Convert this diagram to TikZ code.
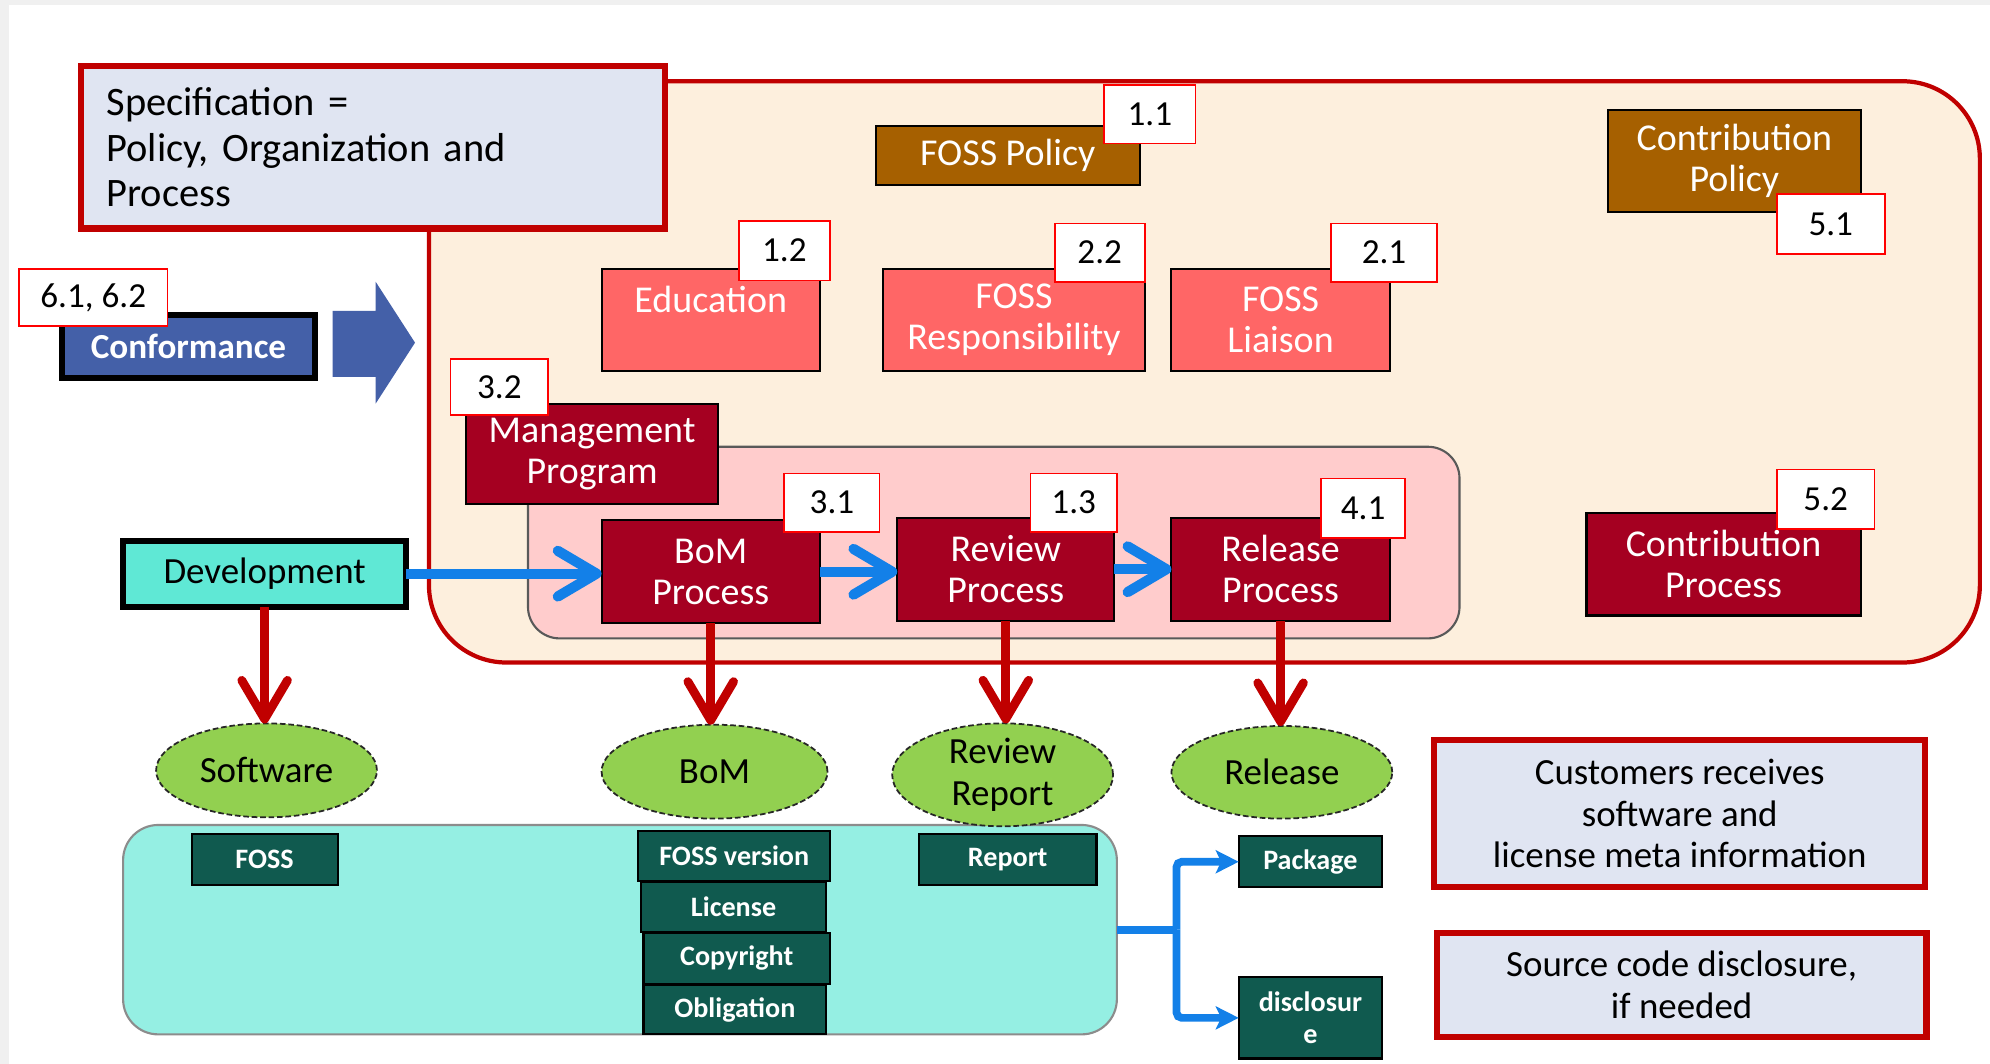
\documentclass[tikz,border=0pt]{standalone}
\usepackage{fontspec}
\setmainfont{Carlito}
\usetikzlibrary{shapes.geometric,arrows.meta}

\definecolor{cRed}{HTML}{C00000}
\definecolor{cCream}{HTML}{FDEFDD}
\definecolor{cSpec}{HTML}{E0E5F2}
\definecolor{cBrown}{HTML}{A66000}
\definecolor{cSalmon}{HTML}{FF6666}
\definecolor{cDark}{HTML}{A50021}
\definecolor{cPink}{HTML}{FFCCCC}
\definecolor{cConf}{HTML}{4460A8}
\definecolor{cDev}{HTML}{5FE8D5}
\definecolor{cBlue}{HTML}{1380E8}
\definecolor{cGreen}{HTML}{92D050}
\definecolor{cCyan}{HTML}{95EFE3}
\definecolor{cTeal}{HTML}{105A4F}

\newcommand\fmain{\fontsize{10.8pt}{11.6pt}\selectfont}
\newcommand\rbox[7]{\node[#6, minimum width={(#4-#2)*0.36109pt}, minimum height={(#5-#3)*0.36109pt}] (#1) at ({(#2+#4)/2},{(#3+#5)/2}) {#7};}

\tikzset{
  base/.style={inner sep=0pt, outer sep=0pt, align=center},
  region/.style={base, draw=cRed, line width=1.2pt, fill=cCream, rounded corners=22pt},
  pinkreg/.style={base, draw=black!65, line width=0.6pt, fill=cPink, rounded corners=9pt},
  cyanreg/.style={base, draw=black!45, line width=0.6pt, fill=cCyan, rounded corners=10pt},
  specbox/.style={base, draw=cRed, line width=1.8pt, fill=cSpec, align=left, text width=151.7pt,
    font=\fontsize{11.5pt}{13pt}\selectfont},
  notebox/.style={base, draw=cRed, line width=1.8pt, fill=cSpec, font=\fontsize{10.5pt}{11.8pt}\selectfont},
  brownbox/.style={base, draw=black, line width=0.6pt, fill=cBrown, text=white, font=\fmain},
  salmon/.style={base, draw=black, line width=0.6pt, fill=cSalmon, text=white, font=\fmain},
  darkbox/.style={base, draw=black, line width=0.6pt, fill=cDark, text=white, font=\fmain},
  confbox/.style={base, draw=black, line width=1.8pt, fill=cConf, text=white, font=\bfseries\fontsize{10pt}{12pt}\selectfont},
  devbox/.style={base, draw=black, line width=1.8pt, fill=cDev, text=black, font=\fontsize{10.5pt}{12pt}\selectfont},
  ell/.style={base, ellipse, draw=black!85, dash pattern=on 1.6pt off 0.8pt, line width=0.5pt, fill=cGreen,
    font=\fontsize{10.5pt}{11.8pt}\selectfont},
  tealbox/.style={base, draw=black, line width=0.6pt, fill=cTeal, text=white, font=\bfseries\fontsize{8pt}{9pt}\selectfont},
  lbl/.style={base, draw=red, line width=0.5pt, fill=white, font=\fontsize{10pt}{12pt}\selectfont},
  redarr/.style={draw=cRed, line width=2.5pt, -{Straight Barb[round, length=11pt, width=13pt]}},
  bluearr/.style={draw=cBlue, line width=2.9pt, -{Straight Barb[round, length=11pt, width=13pt]}},
  conn/.style={draw=cBlue, line width=2.2pt, rounded corners=1.5pt},
  conntip/.style={-{Stealth[length=6.5pt, width=6.5pt, inset=1.5pt]}}
}

\begin{document}
\begin{tikzpicture}[x=0.36109pt, y=-0.36109pt]
\useasboundingbox (0,0) rectangle (1568,838);
\fill[black!6] (0,0) rectangle (1568,838);
\fill[white] (7,4) rectangle (1568,838);

% containers
\rbox{reg}{338}{64}{1560}{522}{region}{}
\rbox{pinkr}{416}{352}{1150}{503}{pinkreg}{}
\rbox{cyan}{97}{650}{880}{815}{cyanreg}{}

% specification
\rbox{spec}{64}{52}{524}{180}{specbox}{Specification =\\Policy, Organization and\\Process}

% policy boxes
\rbox{fpol}{690}{99}{898}{146}{brownbox}{FOSS Policy}
\rbox{cpol}{1267}{87}{1466}{167}{brownbox}{Contribution\\Policy}

\rbox{edu}{474}{212}{646}{292}{salmon}{Education\\\phantom{E}}
\rbox{fresp}{696}{212}{902}{292}{salmon}{FOSS\\Responsibility}
\rbox{flia}{923}{212}{1095}{292}{salmon}{FOSS\\Liaison}

\rbox{mgmt}{367}{318}{566}{397}{darkbox}{Management\\Program}
\rbox{bomp}{474}{410}{646}{491}{darkbox}{BoM\\Process}
\rbox{revp}{707}{408}{878}{489}{darkbox}{Review\\Process}
\rbox{relp}{923}{408}{1095}{489}{darkbox}{Release\\Process}
\rbox{cproc}{1250}{404}{1466}{485}{darkbox}{Contribution\\Process}

% conformance and development
\rbox{conf}{49}{248}{248}{298}{confbox}{Conformance}
\fill[cConf] (262,245) -- (296,245) -- (296,222) -- (327,270) -- (296,318) -- (296,297) -- (262,297) -- cycle;
\rbox{dev}{97}{426}{320}{478}{devbox}{Development}

% outputs
\rbox{sw}{123}{570}{297}{644}{ell}{Software}
\rbox{bom}{474}{571}{652}{645}{ell}{BoM}
\rbox{rr}{703}{574}{877}{647}{ell}{Review\\Report}
\rbox{rel}{923}{572}{1097}{645}{ell}{Release}

\rbox{foss}{151}{657}{266}{697}{tealbox}{FOSS}
\rbox{fver}{503}{655}{654}{694}{tealbox}{FOSS version}
\rbox{lic}{505}{695}{651}{734}{tealbox}{License}
\rbox{copy}{507}{735}{654}{775}{tealbox}{Copyright}
\rbox{obl}{507}{776}{651}{815}{tealbox}{Obligation}
\rbox{rep}{724}{657}{864}{697}{tealbox}{Report}
\rbox{pkg}{976}{659}{1089}{699}{tealbox}{Package}
\rbox{disc}{976}{770}{1089}{834}{tealbox}{disclosur\\e}

\rbox{cust}{1130}{583}{1517}{699}{notebox}{Customers receives\\software and\\license meta information}
\rbox{src}{1132}{735}{1518}{817}{notebox}{Source code disclosure,\\if needed}

% labels
\rbox{l11}{870}{67}{942}{113}{lbl}{1.1}
\rbox{l51}{1400}{153}{1485}{200}{lbl}{5.1}
\rbox{l12}{582}{174}{654}{221}{lbl}{1.2}
\rbox{l22}{831}{176}{902}{222}{lbl}{2.2}
\rbox{l21}{1049}{176}{1132}{222}{lbl}{2.1}
\rbox{l6}{15}{212}{132}{257}{lbl}{6.1, 6.2}
\rbox{l32}{355}{283}{432}{327}{lbl}{3.2}
\rbox{l31}{618}{373}{693}{419}{lbl}{3.1}
\rbox{l13}{812}{373}{880}{419}{lbl}{1.3}
\rbox{l41}{1041}{377}{1107}{424}{lbl}{4.1}
\rbox{l52}{1400}{370}{1477}{417}{lbl}{5.2}

% flow arrows
\draw[bluearr] (dev.east) -- (dev.east -| bomp.west);
\draw[bluearr] (bomp.east) -- (bomp.east -| revp.west);
\draw[bluearr] (revp.east) -- (revp.east -| relp.west);

\draw[redarr] (dev.south) -- (dev.south |- sw.north);
\draw[redarr] (bomp.south) -- (bomp.south |- bom.north);
\draw[redarr] (revp.south) -- (revp.south |- rr.north);
\draw[redarr] (relp.south) -- (relp.south |- rel.north);

% release connector
\coordinate (br) at (927,732.5);
\draw[conn] (cyan.east) -- (br);
\draw[conn, conntip] (br) |- (pkg.west);
\draw[conn, conntip] (br) |- (disc.west);
\end{tikzpicture}
\end{document}
